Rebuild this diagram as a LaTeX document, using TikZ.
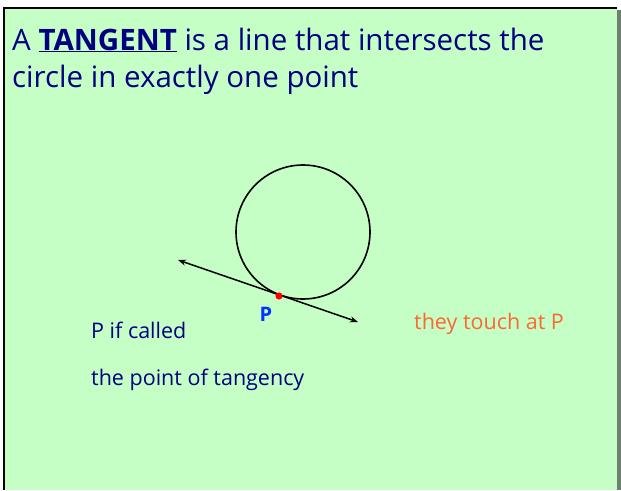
\documentclass[tikz,border=0pt]{standalone}
\usepackage{fontspec}
\setmainfont{Open Sans}
\usetikzlibrary{arrows.meta}
\definecolor{slidegreen}{RGB}{198,255,198}
\definecolor{navytext}{RGB}{0,0,128}
\definecolor{touchorange}{RGB}{255,102,51}
\definecolor{pblue}{RGB}{0,51,255}
\definecolor{shadowgray}{RGB}{112,128,112}
\tikzset{
  slidetext/.style={anchor=base west, inner sep=0pt, text=navytext},
  tangentline/.style={line width=1.5pt, {Stealth[length=8pt,width=6pt]}-{Stealth[length=8pt,width=6pt]}}
}
\begin{document}
\begin{tikzpicture}[x=1pt,y=-1pt]
  \useasboundingbox (0,0) rectangle (621,490);

  % slide panel
  \fill[shadowgray] (617,10) rectangle (620.5,490);
  \fill[slidegreen] (4,8) rectangle (617,490);
  \draw[line width=1.3pt] (4,490) -- (4,8) -- (617,8);

  % heading
  \node[slidetext, font=\fontsize{29.5}{34}\selectfont] (head1) at (12,50)
    {A \textbf{\underline{TANGENT}} is a line that intersects the};
  \node[slidetext, font=\fontsize{29.5}{34}\selectfont] (head2) at (12,87)
    {circle in exactly one point};

  % circle and tangent
  \node[draw, line width=1.6pt, circle, minimum size=134pt, inner sep=0pt] (circ) at (303,232) {};
  \coordinate (tl) at (178,260);
  \coordinate (tr) at (358,322);
  \draw[tangentline] (tl) -- (tr);
  \fill[red] (279,296) circle (3.6pt) coordinate (P);
  \node[font=\fontsize{20}{24}\selectfont\bfseries, text=pblue] (plabel) at (266,314) {P};

  % notes
  \node[slidetext, font=\fontsize{21.5}{26}\selectfont] (note1) at (91,338) {P if called};
  \node[slidetext, font=\fontsize{21.5}{26}\selectfont] (note2) at (91,385) {the point of tangency};
  \node[slidetext, font=\fontsize{21.5}{26}\selectfont, text=touchorange] (touch) at (414,329) {they touch at P};
\end{tikzpicture}
\end{document}
